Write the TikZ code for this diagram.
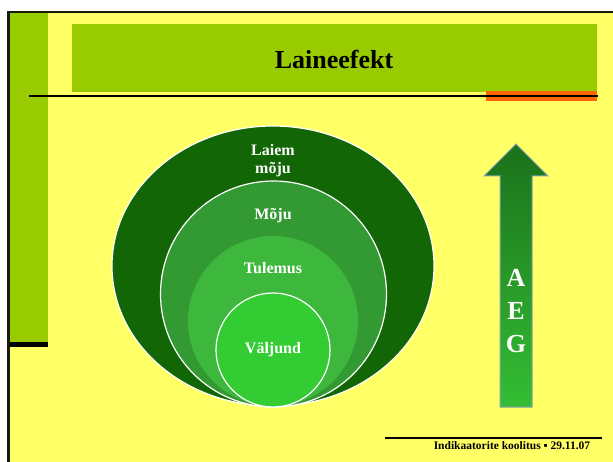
\documentclass[tikz,border=0pt]{standalone}
\usepackage{fontspec}
\setmainfont{Liberation Serif}
\usepackage{xcolor}
\definecolor{slideyellow}{HTML}{FFFF66}
\definecolor{barlime}{HTML}{99CC00}
\definecolor{barorange}{HTML}{FF6600}
\definecolor{rimdark}{HTML}{1A1A0A}
\definecolor{widegreen}{HTML}{136606}
\definecolor{impactgreen}{HTML}{339933}
\definecolor{resultgreen}{HTML}{3DB83D}
\definecolor{outputgreen}{HTML}{33CC33}
\definecolor{arrowtop}{HTML}{1B711B}
\definecolor{arrowbottom}{HTML}{34BE34}
\definecolor{arrowrim}{HTML}{8AA0B0}
\usepackage{tikz}

\begin{document}
\begin{tikzpicture}[x=1pt,y=-1pt,line join=miter]
              \tikzstyle{ring}=[draw=white,line width=1.2pt]
              \tikzstyle{lbl}=[text=white,font=\bfseries\fontsize{16}{18}\selectfont,align=center,inner sep=0pt]

              \useasboundingbox (0,0) rectangle (613,462);
              \fill[white] (0,0) rectangle (613,462);
              \fill[slideyellow] (7,11) rectangle (613,462);
              \fill[barlime] (10,13) rectangle (48,342);
              \fill[black] (7,342) rectangle (48,347);
              \fill[rimdark] (7,11) rectangle (10,462);
              \fill[rimdark] (7,11) rectangle (613,13);

              \fill[barlime] (72,24) rectangle (597,92);
              \fill[barorange] (486,91) rectangle (597,101);
              \draw[black,line width=2pt] (29,96) -- (598,96);
              \node (title) at (334,59) {\bfseries\fontsize{26}{30}\selectfont Laineefekt};

              \filldraw[ring,fill=widegreen] (273,266) ellipse [x radius=161,y radius=140];
              \filldraw[ring,fill=impactgreen] (273.5,294) circle [radius=113];
              \fill[resultgreen] (273,321) circle [radius=85];
              \filldraw[ring,fill=outputgreen] (273,350) circle [radius=57];

              \node[lbl] (laiem)   at (273,161) {Laiem\\mõju};
              \node[lbl] (moju)    at (273,216) {Mõju};
              \node[lbl] (tulemus) at (273,268) {Tulemus};
              \node[lbl] (valjund) at (273,350) {Väljund};

              \shade[top color=arrowtop,bottom color=arrowbottom,draw=arrowrim,line width=1pt]
                (516,144) -- (548,176) -- (532,176) -- (532,407) -- (500,407)
                -- (500,176) -- (484,176) -- cycle;
              \node[text=white,font=\bfseries\fontsize{26}{33}\selectfont,align=center] (aeg) at (516,311) {A\\E\\G};

              \draw[black,line width=1.5pt] (385,438) -- (602,438);
              \node[font=\bfseries\fontsize{11.5}{13}\selectfont,inner sep=0pt] (footer) at (512,446) {Indikaatorite koolitus ▪ 29.11.07};
       \end{tikzpicture}
\end{document}
